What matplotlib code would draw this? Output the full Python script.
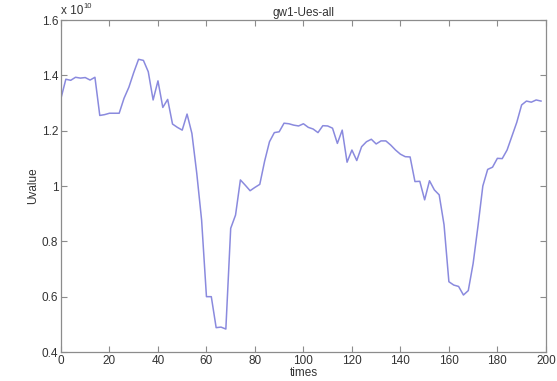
# plot.py
# Uvalue over time for gw1 (all Ues), MATLAB-style line plot.
import matplotlib
matplotlib.use("Agg")
import matplotlib.pyplot as plt
from matplotlib.ticker import FuncFormatter

# sample times (every 2 steps)
times = list(range(0, 200, 2))

# Uvalue in units of 1e10
uvalue = [
    1.317, 1.386, 1.382, 1.393, 1.390, 1.392, 1.383, 1.393, 1.255, 1.258,
    1.263, 1.263, 1.263, 1.317, 1.357, 1.410, 1.458, 1.454, 1.413, 1.311,
    1.380, 1.284, 1.313, 1.224, 1.212, 1.202, 1.260, 1.190, 1.046, 0.877,
    0.600, 0.600, 0.488, 0.490, 0.483, 0.847, 0.895, 1.022, 1.003, 0.983,
    0.995, 1.006, 1.090, 1.160, 1.193, 1.196, 1.227, 1.225, 1.220, 1.217,
    1.225, 1.212, 1.206, 1.193, 1.218, 1.217, 1.209, 1.154, 1.202, 1.086,
    1.130, 1.092, 1.142, 1.160, 1.169, 1.152, 1.163, 1.163, 1.148, 1.130,
    1.115, 1.106, 1.105, 1.016, 1.017, 0.950, 1.019, 0.986, 0.968, 0.860,
    0.654, 0.642, 0.637, 0.606, 0.622, 0.720, 0.855, 1.000, 1.060, 1.068,
    1.100, 1.099, 1.130, 1.180, 1.230, 1.293, 1.307, 1.303, 1.311, 1.307,
]

x_ticks = list(range(0, 201, 20))
y_ticks = [0.4, 0.6, 0.8, 1.0, 1.2, 1.4, 1.6]

plt.rcParams["font.family"] = ["Liberation Sans", "DejaVu Sans"]

fig = plt.figure(figsize=(5.57, 3.81), dpi=100)
ax = fig.add_axes([0.1095, 0.0761, 0.8705, 0.8714])

ax.plot(times, uvalue, color="#8a8ade", linewidth=1.1)

ax.set_xlim(0, 200)
ax.set_ylim(0.4, 1.6)
ax.set_xticks(x_ticks)
ax.set_yticks(y_ticks)
ax.yaxis.set_major_formatter(FuncFormatter(lambda v, _: f"{v:g}"))

for side in ax.spines.values():
    side.set_color("#8c8c8c")
    side.set_linewidth(0.9)
ax.tick_params(direction="in", length=4, width=0.8, color="#8c8c8c",
               labelsize=8.5, labelcolor="#333333", top=True, right=True,
               pad=2)

ax.set_title("gw1-Ues-all", fontsize=8.5, color="#333333", pad=3)
ax.set_xlabel("times", fontsize=8.5, color="#333333", labelpad=0)
ax.set_ylabel("Uvalue", fontsize=8.5, color="#333333", labelpad=2)

# exponent label above the y axis
ax.text(0.0, 1.008, "x 10", transform=ax.transAxes, fontsize=8.5,
        color="#333333", ha="left", va="bottom")
ax.text(0.047, 1.03, "10", transform=ax.transAxes, fontsize=5.5,
        color="#333333", ha="left", va="bottom")

fig.savefig("out.png", dpi=100)
